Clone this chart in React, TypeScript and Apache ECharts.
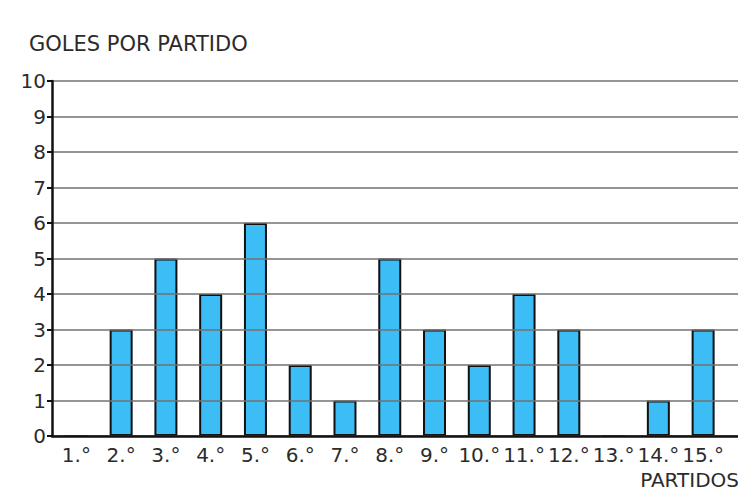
import React, { useEffect, useRef } from "react";
import * as echarts from "echarts";

const categories = ["1.°", "2.°", "3.°", "4.°", "5.°", "6.°", "7.°", "8.°", "9.°", "10.°", "11.°", "12.°", "13.°", "14.°", "15.°"];
const goals = [0, 3, 5, 4, 6, 2, 1, 5, 3, 2, 4, 3, 0, 1, 3];
const yTitle = "GOLES POR PARTIDO";
const xTitle = "PARTIDOS";

const FONT = "DejaVu Sans";
const TEXT = "#2b2b2b";

export default function App() {
  const ref = useRef<HTMLDivElement>(null);
  useEffect(() => {
    if (!ref.current) return;
    const chart = echarts.init(ref.current, null, { renderer: "svg" });
    chart.setOption({
      animation: false,
      backgroundColor: "#ffffff",
      grid: [
        { left: 52, right: 4, top: 81, bottom: 55 },
        { left: 54, right: 20.5, top: 81, bottom: 55 },
      ],
      xAxis: [
        {
          gridIndex: 0,
          type: "value",
          min: 0,
          max: 1,
          z: 10,
          axisLine: { show: true, onZero: false, lineStyle: { color: "#111", width: 2.5 } },
          axisTick: { show: false },
          axisLabel: { show: false },
          splitLine: { show: false },
        },
        {
          gridIndex: 1,
          type: "category",
          data: categories,
          axisLine: { show: false },
          axisTick: { show: false },
          axisLabel: {
            interval: 0,
            margin: 9,
            color: TEXT,
            fontFamily: FONT,
            fontSize: 20,
          },
        },
      ],
      yAxis: [
        {
          gridIndex: 0,
          type: "value",
          min: 0,
          max: 10,
          interval: 1,
          z: 10,
          axisLine: { show: true, lineStyle: { color: "#111", width: 2.5 } },
          axisTick: { show: true, length: 5, lineStyle: { color: "#111", width: 2 } },
          axisLabel: { margin: 6, color: TEXT, fontFamily: FONT, fontSize: 20 },
          splitLine: { show: true, lineStyle: { color: "#727272", width: 1.5 } },
        },
        {
          gridIndex: 1,
          type: "value",
          min: 0,
          max: 10,
          show: false,
        },
      ],
      series: [
        {
          type: "bar",
          xAxisIndex: 1,
          yAxisIndex: 1,
          z: 0,
          data: goals,
          barWidth: 23,
          itemStyle: { color: "#3cbdf5", borderColor: "#111", borderWidth: 2 },
        },
      ],
      graphic: [
        {
          type: "text",
          left: 29,
          top: 33,
          style: { text: yTitle, font: `21px "${FONT}"`, fill: TEXT },
        },
        {
          type: "text",
          right: 7,
          top: 470,
          style: { text: xTitle, font: `20px "${FONT}"`, fill: TEXT },
        },
      ],
    });
    return () => chart.dispose();
  }, []);
  return <div ref={ref} style={{ width: 746, height: 491, marginLeft: -8, marginTop: -8 }} />;
}
